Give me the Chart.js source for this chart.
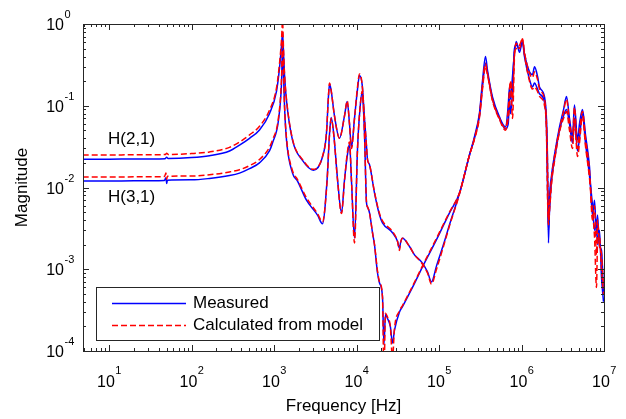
<!DOCTYPE html>
<html>
<head>
<meta charset="utf-8">
<script src="https://cdn.jsdelivr.net/npm/chart.js@4.4.0/dist/chart.umd.min.js"></script>
<style>
  html, body { margin: 0; padding: 0; background: #fff; }
  #wrap { width: 626px; height: 419px; }
</style>
</head>
<body>
<div id="wrap"><canvas id="frfChart" width="626" height="419"></canvas></div>
<script>
// Frequency grids [Hz]
const freqLow21 = [
  4.8, 10, 20, 48, 50, 52, 100, 165, 289, 382, 505, 667, 881, 1072, 1167, 1234, 1269, 1304, 1341, 1418,
  1676, 2215, 3011, 3869, 4325, 4550, 4707, 4900, 5409, 6220, 7155, 7715, 8225, 8696, 9457, 10290, 10870, 11720, 12500, 13220,
  13590, 14380, 16520, 19010, 20660, 27310, 31410, 33200, 34140, 36110, 43870, 50450, 61340, 72560, 81100, 93300, 116600, 134000, 177100
];
const freqLow31 = [
  4.8, 10, 20, 47, 49, 50, 51, 100, 165, 289, 382, 505, 667, 881, 959, 1134, 1234, 1269, 1304, 1341,
  1418, 1676, 1927, 2475, 3367, 3869, 4400, 4707, 4933, 5300, 5900, 6579, 7155, 7715, 8225, 8696, 9457, 10290, 11000, 11720,
  12500, 13220, 13590, 14380, 15630, 16520, 17980, 19010, 20660, 21500, 22470, 23760, 25700, 27310, 28880, 33200, 36110, 47710, 63100, 93300,
  134000, 177100
];
const freqHigh = [
  234200, 269200, 309600, 336600, 366200, 387000, 444800, 540500, 639900, 690000, 715600, 736200, 778400, 822400, 862800, 946200, 1028000, 1087000, 1250000, 1359000,
  1438000, 1563000, 1652000, 1901000, 2010000, 2066000, 2124000, 2183000, 2312000, 2512000, 2890000, 3229000, 3510000, 3817000, 4150000, 4387000, 4775000, 5047000, 5483000, 5966000,
  6668000, 7257000, 7674000, 8110000, 8337000, 8813000, 9330000, 9860000
];

// H(2,1) magnitudes
const meas21Low = [
  0.0222, 0.0222, 0.0223, 0.0225, 0.0235, 0.0226, 0.0232, 0.0245, 0.028, 0.033, 0.040, 0.0505, 0.08, 0.15, 0.29, 0.55, 0.78, 0.45, 0.24, 0.115,
  0.038, 0.0215, 0.0163, 0.0236, 0.046, 0.12, 0.185, 0.16, 0.075, 0.040, 0.075, 0.113, 0.06, 0.031, 0.07, 0.16, 0.235, 0.18, 0.07, 0.032,
  0.022, 0.019, 0.0086, 0.0046, 0.0037, 0.0028, 0.0022, 0.0018, 0.0021, 0.0024, 0.0019, 0.0015, 0.00123, 0.00093, 0.0007, 0.0011, 0.0022, 0.0035, 0.0085
];
const model21Low = [
  0.0250, 0.0250, 0.0251, 0.0253, 0.0262, 0.0254, 0.026, 0.0272, 0.031, 0.036, 0.044, 0.056, 0.088, 0.165, 0.33, 0.65, 1.1, 0.5, 0.25, 0.12,
  0.039, 0.022, 0.0167, 0.024, 0.047, 0.12, 0.19, 0.16, 0.075, 0.040, 0.075, 0.115, 0.06, 0.030, 0.07, 0.17, 0.245, 0.18, 0.07, 0.032,
  0.022, 0.019, 0.0088, 0.0048, 0.0039, 0.0029, 0.0022, 0.0017, 0.0021, 0.0024, 0.0019, 0.0015, 0.0012, 0.0009, 0.00066, 0.0010, 0.0021, 0.0034, 0.0083
];
const meas21High = [
  0.025, 0.042, 0.082, 0.20, 0.40, 0.27, 0.128, 0.073, 0.055, 0.10, 0.17, 0.12, 0.23, 0.45, 0.61, 0.45, 0.62, 0.43, 0.26, 0.24,
  0.30, 0.23, 0.17, 0.128, 0.067, 0.022, 0.0021, 0.007, 0.014, 0.025, 0.055, 0.089, 0.13, 0.07, 0.042, 0.102, 0.038, 0.06, 0.09, 0.044,
  0.018, 0.0045, 0.007, 0.0026, 0.0046, 0.0019, 0.0017, 0.0005
];
const model21High = [
  0.025, 0.04, 0.078, 0.18, 0.33, 0.25, 0.12, 0.07, 0.053, 0.09, 0.16, 0.2, 0.07, 0.4, 0.58, 0.5, 0.66, 0.45, 0.25, 0.22,
  0.26, 0.21, 0.16, 0.12, 0.06, 0.02, 0.004, 0.006, 0.013, 0.024, 0.052, 0.085, 0.12, 0.065, 0.04, 0.095, 0.03, 0.05, 0.085, 0.04,
  0.016, 0.004, 0.006, 0.0015, 0.004, 0.002, 0.0015, 0.0006
];

// H(3,1) magnitudes
const meas31Low = [
  0.0120, 0.0120, 0.0121, 0.0122, 0.0132, 0.0112, 0.0123, 0.0124, 0.0129, 0.014, 0.015, 0.017, 0.020, 0.028, 0.035, 0.067, 0.19, 0.5, 0.25, 0.1,
  0.038, 0.015, 0.012, 0.007, 0.0046, 0.0036, 0.0124, 0.045, 0.072, 0.045, 0.0124, 0.0049, 0.0124, 0.024, 0.034, 0.012, 0.0024, 0.03, 0.09, 0.147,
  0.045, 0.0065, 0.0058, 0.0049, 0.0028, 0.002, 0.0009, 0.00068, 0.00046, 0.00012, 0.00028, 0.00025, 0.0002, 0.000125, 0.00018, 0.0003, 0.00035, 0.0006, 0.00107, 0.0023,
  0.0049, 0.0085
];
const model31Low = [
  0.0134, 0.0134, 0.0135, 0.0136, 0.0150, 0.0126, 0.0137, 0.0138, 0.0143, 0.0155, 0.0165, 0.0185, 0.022, 0.031, 0.038, 0.072, 0.22, 0.62, 0.27, 0.1,
  0.04, 0.016, 0.0125, 0.0075, 0.0048, 0.0038, 0.012, 0.044, 0.07, 0.044, 0.012, 0.0048, 0.012, 0.026, 0.036, 0.012, 0.0021, 0.03, 0.09, 0.15,
  0.045, 0.0065, 0.0058, 0.0049, 0.0028, 0.002, 0.00095, 0.0007, 0.00045, 0.00005, 0.00029, 0.00026, 0.0002, 0.00008, 0.00019, 0.00031, 0.00036, 0.00062, 0.0011, 0.0024,
  0.005, 0.0086
];
const meas31High = [
  0.025, 0.04, 0.075, 0.17, 0.33, 0.25, 0.12, 0.07, 0.052, 0.06, 0.12, 0.08, 0.15, 0.5, 0.55, 0.5, 0.6, 0.4, 0.21, 0.17,
  0.19, 0.16, 0.14, 0.11, 0.05, 0.01, 0.003, 0.005, 0.012, 0.022, 0.05, 0.075, 0.09, 0.06, 0.035, 0.07, 0.028, 0.04, 0.08, 0.035,
  0.014, 0.006, 0.003, 0.004, 0.002, 0.003, 0.0008, 0.0004
];
const model31High = [
  0.025, 0.039, 0.072, 0.16, 0.3, 0.24, 0.115, 0.068, 0.05, 0.07, 0.1, 0.2, 0.12, 0.45, 0.5, 0.55, 0.65, 0.42, 0.2, 0.16,
  0.17, 0.15, 0.13, 0.1, 0.045, 0.008, 0.0035, 0.005, 0.011, 0.021, 0.048, 0.07, 0.085, 0.05, 0.03, 0.065, 0.024, 0.035, 0.075, 0.032,
  0.013, 0.005, 0.0025, 0.0006, 0.002, 0.0025, 0.001, 0.0005
];

// Axis decades and texts
const xDecades = [1, 2, 3, 4, 5, 6, 7];
const yDecades = [0, -1, -2, -3, -4];
const seriesNames = ['Measured', 'Calculated from model'];
const curveNames = ['H(2,1)', 'H(3,1)'];

const BLUE = '#0000ff';
const RED = '#ff0000';
const FONT = '"Liberation Sans", Arial, Helvetica, sans-serif';

function toPoints(freqs, mags) {
  return freqs.map((f, i) => ({ x: f, y: mags[i] }));
}

const freq21 = freqLow21.concat(freqHigh);
const freq31 = freqLow31.concat(freqHigh);

// Eixos no estilo MATLAB: caixa, ticks para dentro, rótulos 10^n
const matlabAxes = {
  id: 'matlabAxes',
  afterDatasetsDraw(chart) {
    const { ctx, chartArea: a, scales } = chart;
    const xs = scales.x, ys = scales.y;
    ctx.save();
    ctx.strokeStyle = '#262626';
    ctx.lineWidth = 1;
    ctx.beginPath();
    for (let n = 0; n <= 7; n++) {
      for (let k = 1; k <= 9; k++) {
        const v = k * Math.pow(10, n);
        if (v < xs.min || v > xs.max) continue;
        const px = Math.round(xs.getPixelForValue(v)) + 0.5;
        const len = k === 1 ? 6 : 3;
        ctx.moveTo(px, a.bottom); ctx.lineTo(px, a.bottom - len);
        ctx.moveTo(px, a.top); ctx.lineTo(px, a.top + len);
      }
    }
    for (let n = -4; n <= 0; n++) {
      for (let k = 1; k <= 9; k++) {
        const v = k * Math.pow(10, n);
        if (v < ys.min * 0.999 || v > ys.max * 1.001) continue;
        const py = Math.round(ys.getPixelForValue(v)) + 0.5;
        const len = k === 1 ? 6 : 3;
        ctx.moveTo(a.left, py); ctx.lineTo(a.left + len, py);
        ctx.moveTo(a.right, py); ctx.lineTo(a.right - len, py);
      }
    }
    ctx.stroke();
    ctx.strokeRect(Math.round(a.left) + 0.5, Math.round(a.top) + 0.5,
      Math.round(a.right - a.left), Math.round(a.bottom - a.top));

    // tick labels
    ctx.fillStyle = '#000';
    ctx.textBaseline = 'alphabetic';
    const big = '16px ' + FONT, small = '11px ' + FONT;
    xDecades.forEach(n => {
      const px = xs.getPixelForValue(Math.pow(10, n));
      ctx.font = big; const w1 = ctx.measureText('10').width;
      ctx.font = small; const w2 = ctx.measureText(String(n)).width;
      const x0 = px - (w1 + w2) / 2;
      ctx.font = big; ctx.textAlign = 'left';
      ctx.fillText('10', x0, a.bottom + 36);
      ctx.font = small;
      ctx.fillText(String(n), x0 + w1 + 0.5, a.bottom + 23);
    });
    yDecades.forEach(n => {
      const py = ys.getPixelForValue(Math.pow(10, n));
      const xEnd = a.left - 19;
      ctx.font = big; ctx.textAlign = 'right';
      ctx.fillText('10', xEnd, py + 6);
      ctx.font = small; ctx.textAlign = 'left';
      ctx.fillText(String(n), xEnd + 0.5, py - 6);
    });

    // axis titles
    ctx.font = '17px ' + FONT;
    ctx.textAlign = 'center';
    ctx.textBaseline = 'middle';
    ctx.fillText('Frequency [Hz]', (a.left + a.right) / 2, 406);
    ctx.save();
    ctx.translate(22, (a.top + a.bottom) / 2);
    ctx.rotate(-Math.PI / 2);
    ctx.fillText('Magnitude', 0, 0);
    ctx.restore();

    // curve annotations
    ctx.font = '17px ' + FONT;
    ctx.textAlign = 'left';
    ctx.fillText(curveNames[0], 108, 139);
    ctx.fillText(curveNames[1], 108, 197);

    // legend
    const lx = 96.5, ly = 287.5, lw = 283, lh = 53;
    ctx.fillStyle = '#fff';
    ctx.fillRect(lx, ly, lw, lh);
    ctx.strokeStyle = '#262626';
    ctx.lineWidth = 1;
    ctx.strokeRect(lx, ly, lw, lh);
    const rows = [ly + 16, ly + 38];
    const styles = [{ c: BLUE, d: [] }, { c: RED, d: [6, 3] }];
    rows.forEach((ry, i) => {
      ctx.strokeStyle = styles[i].c;
      ctx.lineWidth = 1.4;
      ctx.setLineDash(styles[i].d);
      ctx.beginPath();
      ctx.moveTo(112, ry); ctx.lineTo(186, ry);
      ctx.stroke();
      ctx.setLineDash([]);
      ctx.fillStyle = '#000';
      ctx.font = '17px ' + FONT;
      ctx.textBaseline = 'middle';
      ctx.fillText(seriesNames[i], 193, ry);
    });
    ctx.restore();
  }
};

function lineSet(label, pts, color, dash, order) {
  return {
    label: label,
    data: pts,
    borderColor: color,
    backgroundColor: color,
    borderWidth: 1.5,
    borderDash: dash,
    pointRadius: 0,
    cubicInterpolationMode: 'monotone',
    fill: false,
    order: order,
    clip: 0
  };
}

const ctx = document.getElementById('frfChart').getContext('2d');
new Chart(ctx, {
  type: 'line',
  data: {
    datasets: [
      lineSet(seriesNames[0] + ' ' + curveNames[0], toPoints(freq21, meas21Low.concat(meas21High)), BLUE, [], 2),
      lineSet(seriesNames[0] + ' ' + curveNames[1], toPoints(freq31, meas31Low.concat(meas31High)), BLUE, [], 2),
      lineSet(seriesNames[1] + ' ' + curveNames[0], toPoints(freq21, model21Low.concat(model21High)), RED, [6, 3], 1),
      lineSet(seriesNames[1] + ' ' + curveNames[1], toPoints(freq31, model31Low.concat(model31High)), RED, [6, 3], 1)
    ]
  },
  options: {
    responsive: false,
    animation: false,
    devicePixelRatio: 1,
    layout: { padding: { left: 83, right: 22, top: 24, bottom: 68 } },
    scales: {
      x: { type: 'logarithmic', min: 4.84, max: 1e7, display: false },
      y: { type: 'logarithmic', min: 1e-4, max: 1, display: false }
    },
    plugins: {
      legend: { display: false },
      tooltip: { enabled: false }
    }
  },
  plugins: [matlabAxes]
});
</script>
</body>
</html>
